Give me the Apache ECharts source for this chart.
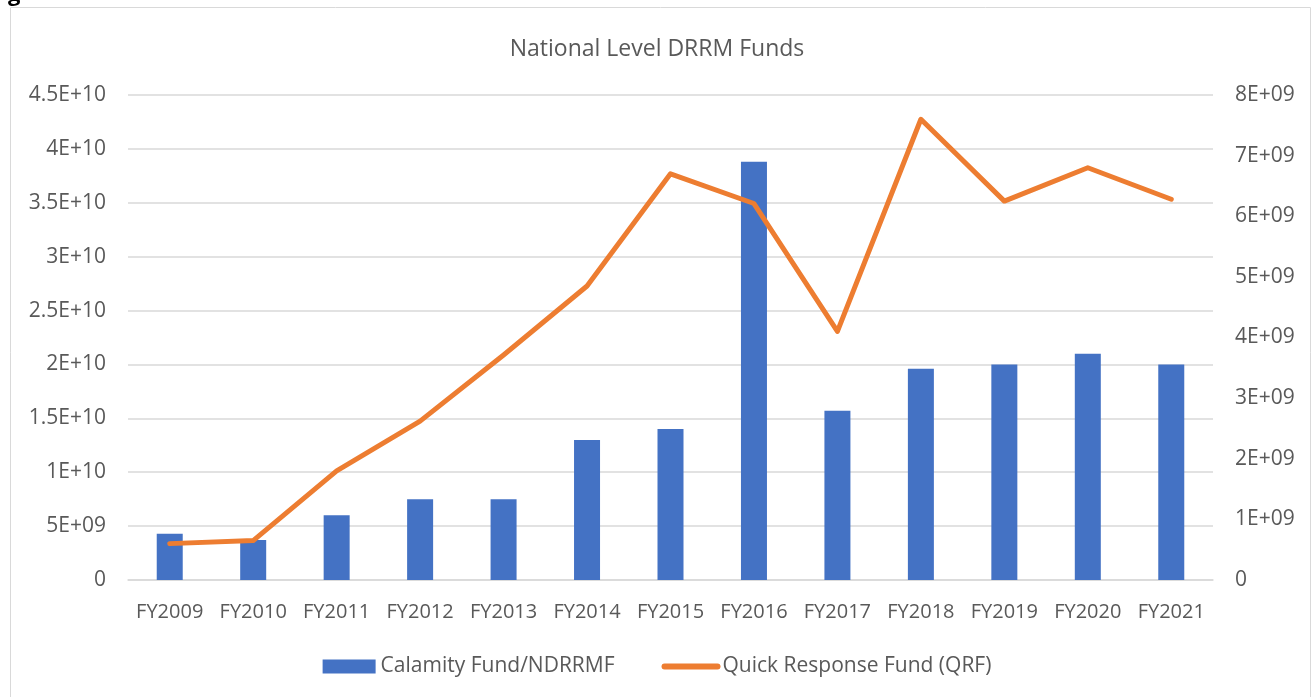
<!DOCTYPE html>
<html>
<head>
<meta charset="utf-8">
<script src="https://cdn.jsdelivr.net/npm/echarts@6/dist/echarts.min.js"></script>
<style>
html,body{margin:0;padding:0;background:#fff;}
#chart{width:1314px;height:697px;}
</style>
</head>
<body>
<div id="chart"></div>
<script>
// fiscal years
var years = ['FY2009','FY2010','FY2011','FY2012','FY2013','FY2014','FY2015','FY2016','FY2017','FY2018','FY2019','FY2020','FY2021'];
// Calamity Fund/NDRRMF (left axis)
var calamityFund = [4.3e9, 3.7e9, 6.0e9, 7.5e9, 7.5e9, 1.3e10, 1.4e10, 3.88e10, 1.57e10, 1.96e10, 2.0e10, 2.1e10, 2.0e10];
// Quick Response Fund (right axis)
var qrf = [0.6e9, 0.65e9, 1.8e9, 2.62e9, 3.71e9, 4.85e9, 6.7e9, 6.21e9, 4.1e9, 7.6e9, 6.25e9, 6.8e9, 6.28e9];

var font = '"Open Sans", "Noto Sans", sans-serif';
var grey = '#595959';

function sci(v){
    if(v === 0) return '0';
    var e = Math.floor(Math.log10(v));
    var m = +(v / Math.pow(10, e)).toFixed(2);
    return m + 'E+' + (e < 10 ? '0' + e : e);
}

var chart = echarts.init(document.getElementById('chart'));
chart.setOption({
    animation: false,
    textStyle: {fontFamily: font},
    title: {
        text: 'National Level DRRM Funds',
        left: 'center',
        top: 33,
        textStyle: {fontFamily: font, fontSize: 23, fontWeight: 'normal', color: grey}
    },
    graphic: [
        {type: 'rect', shape: {x: 10.5, y: 7.5, width: 1300, height: 700}, style: {fill: 'none', stroke: '#d9d9d9', lineWidth: 1}},
        {type: 'text', left: 8, top: -16, style: {text: 'g', font: 'bold 22px ' + font, fill: '#000'}}
    ],
    legend: {
        bottom: 15,
        left: 'center',
        itemGap: 47,
        itemWidth: 53,
        itemHeight: 14,
        textStyle: {fontFamily: font, fontSize: 21, color: grey},
        data: [
            {name: 'Calamity Fund/NDRRMF', icon: 'rect'},
            {
                name: 'Quick Response Fund (QRF)',
                itemStyle: {color: 'transparent', borderColor: 'transparent', borderWidth: 0},
                lineStyle: {color: '#ED7D31', width: 6, cap: 'round'}
            }
        ]
    },
    grid: {left: 128, right: 101, top: 95, bottom: 117},
    xAxis: {
        type: 'category',
        data: years,
        axisTick: {show: false},
        axisLine: {lineStyle: {color: '#d9d9d9', width: 1.5}},
        axisLabel: {interval: 0, margin: 22, fontSize: 20, color: grey, fontFamily: font}
    },
    yAxis: [
        {
            type: 'value', min: 0, max: 4.5e10, interval: 5e9,
            axisLine: {show: false}, axisTick: {show: false},
            splitLine: {lineStyle: {color: '#d9d9d9', width: 1.5}},
            axisLabel: {margin: 22, fontSize: 21, color: grey, fontFamily: font, formatter: sci}
        },
        {
            type: 'value', min: 0, max: 8e9, interval: 1e9,
            axisLine: {show: false}, axisTick: {show: false},
            splitLine: {show: false},
            axisLabel: {margin: 22, fontSize: 21, color: grey, fontFamily: font, formatter: sci}
        }
    ],
    series: [
        {
            name: 'Calamity Fund/NDRRMF',
            type: 'bar',
            data: calamityFund,
            barWidth: 26,
            itemStyle: {color: '#4472C4'}
        },
        {
            name: 'Quick Response Fund (QRF)',
            type: 'line',
            yAxisIndex: 1,
            data: qrf,
            symbol: 'none',
            lineStyle: {color: '#ED7D31', width: 5, cap: 'round', join: 'round'},
            itemStyle: {color: '#ED7D31'}
        }
    ]
});
</script>
</body>
</html>
